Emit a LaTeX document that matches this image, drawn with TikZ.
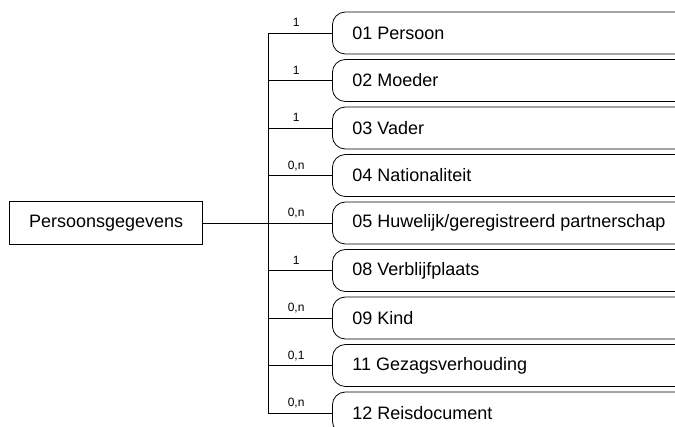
\documentclass[tikz,border=0pt]{standalone}
\usepackage{fontspec}
\setmainfont{Liberation Sans}
\usetikzlibrary{positioning}

\tikzset{
  entity/.style={draw, line width=0.8pt, minimum width=193pt, minimum height=43pt,
    inner sep=0pt, font=\fontsize{18}{20}\selectfont},
  group/.style={draw, line width=0.8pt, rounded corners=13pt, minimum height=42pt,
    text width=330pt, inner xsep=20pt, inner ysep=0pt, align=flush left,
    font=\fontsize{18}{20}\selectfont},
  card/.style={anchor=base, yshift=6.5pt, inner sep=0pt, font=\fontsize{12}{13}\selectfont},
  link/.style={line width=0.8pt}
}

\begin{document}
\begin{tikzpicture}[x=1pt, y=-1pt]

% Page frame, pixel coordinates of the original
\useasboundingbox (0,0) rectangle (675,426);
\clip (0,0) rectangle (675,426);

% Groups of the category list, one under the other
\node [group, anchor=west] (b1) at (332,33) {01 Persoon};
\node [group, below=4.7pt of b1] (b2) {02 Moeder};
\node [group, below=4.7pt of b2] (b3) {03 Vader};
\node [group, below=4.7pt of b3] (b4) {04 Nationaliteit};
\node [group, below=4.7pt of b4] (b5) {05 Huwelijk/geregistreerd partnerschap};
\node [group, below=4.7pt of b5] (b6) {08 Verblijfplaats};
\node [group, below=4.7pt of b6] (b7) {09 Kind};
\node [group, below=4.7pt of b7] (b8) {11 Gezagsverhouding};
\node [group, below=4.7pt of b8] (b9) {12 Reisdocument};

% The entity itself
\node [entity, left=129pt of b5] (pg) {Persoonsgegevens};

% Vertical bus between entity and groups
\coordinate (bus) at (268,0);
\draw [link] (pg.east) -- (pg.east -| bus);
\draw [link] (b1.west -| bus) -- (b9.west -| bus);

% Branches with their cardinality
\draw [link] (b1.west -| bus) -- node[card, pos=0.44] {1} (b1.west);
\draw [link] (b2.west -| bus) -- node[card, pos=0.44] {1} (b2.west);
\draw [link] (b3.west -| bus) -- node[card, pos=0.44] {1} (b3.west);
\draw [link] (b4.west -| bus) -- node[card, pos=0.44] {0,n} (b4.west);
\draw [link] (b5.west -| bus) -- node[card, pos=0.44] {0,n} (b5.west);
\draw [link] (b6.west -| bus) -- node[card, pos=0.44] {1} (b6.west);
\draw [link] (b7.west -| bus) -- node[card, pos=0.44] {0,n} (b7.west);
\draw [link] (b8.west -| bus) -- node[card, pos=0.44] {0,1} (b8.west);
\draw [link] (b9.west -| bus) -- node[card, pos=0.44] {0,n} (b9.west);

\end{tikzpicture}
\end{document}
